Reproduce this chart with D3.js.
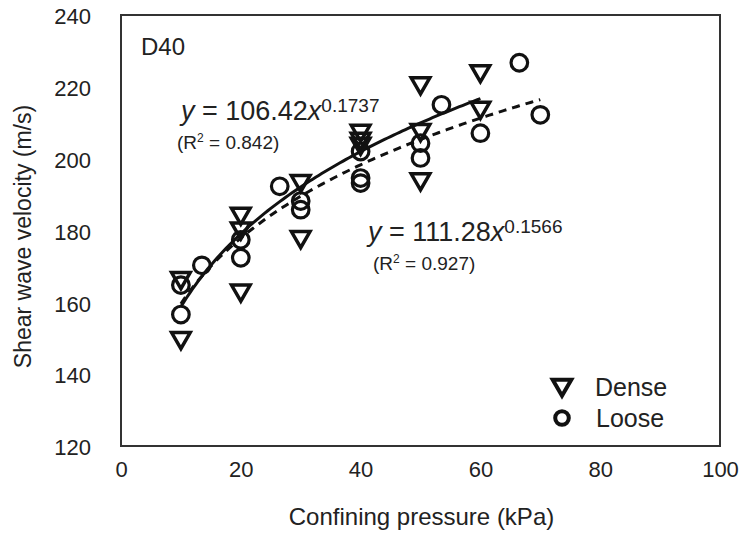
<!DOCTYPE html>
<html>
<head>
<meta charset="utf-8">
<script src="https://cdn.jsdelivr.net/npm/d3@7"></script>
<style>
  body { margin: 0; background: #fff; }
  text { font-family: "Liberation Sans", Arial, sans-serif; fill: #222; }
</style>
</head>
<body>
<svg id="chart" width="745" height="534"></svg>
<script>
// data
const denseX = [10, 10, 20, 20, 20, 30, 30, 40, 40, 40, 50, 50, 50, 60, 60];
const denseY = [166.8, 150.1, 184.7, 180.6, 163.3, 193.8, 178.2, 207.8, 205.6, 204.2, 221.0, 208.0, 194.3, 224.4, 214.2];

const looseX = [10, 10, 13.5, 20, 20, 26.5, 30, 30, 40, 40, 40, 50, 50, 53.5, 60, 66.5, 70];
const looseY = [164.8, 156.6, 170.3, 177.4, 172.4, 192.3, 188.2, 185.8, 202.0, 194.6, 193.2, 204.3, 200.2, 215.0, 207.1, 226.7, 212.2];

// power fits y = a * x^b shown on the chart
const denseFit = [106.42, 0.1737];   // a, b
const looseFit = [111.28, 0.1566];
const denseRange = [10, 60];
const looseRange = [10, 70];

const xTicks = [0, 20, 40, 60, 80, 100];
const yTicks = [120, 140, 160, 180, 200, 220, 240];

const svg = d3.select('#chart');
const margin = { left: 121, right: 25, top: 15, bottom: 88 };
const width = 745, height = 534;

const x = d3.scaleLinear().domain([0, 100]).range([margin.left, width - margin.right]);
const y = d3.scaleLinear().domain([120, 240]).range([height - margin.bottom, margin.top]);

// axes (no tick marks, just labels)
svg.append('g')
    .attr('transform', `translate(0,${y(120)})`)
    .call(d3.axisBottom(x).tickValues(xTicks).tickSize(0).tickPadding(15))
    .call(g => g.select('.domain').remove())
    .selectAll('text').attr('font-size', 22).attr('fill', '#222');

svg.append('g')
    .attr('transform', `translate(${x(0)},0)`)
    .call(d3.axisLeft(y).tickValues(yTicks).tickSize(0).tickPadding(30))
    .call(g => g.select('.domain').remove())
    .selectAll('text').attr('font-size', 22).attr('fill', '#222').attr('dy', '0.4em');

// frame
svg.append('rect')
    .attr('x', x(0)).attr('y', y(240))
    .attr('width', x(100) - x(0)).attr('height', y(120) - y(240))
    .attr('fill', 'none').attr('stroke', '#333').attr('stroke-width', 2);

// axis titles
svg.append('text')
    .attr('x', (x(0) + x(100)) / 2 + 1).attr('y', 525)
    .attr('text-anchor', 'middle').attr('font-size', 24)
    .text('Confining pressure (kPa)');

svg.append('text')
    .attr('transform', `translate(31,${(y(120) + y(240)) / 2 + 6}) rotate(-90)`)
    .attr('text-anchor', 'middle').attr('font-size', 23)
    .text('Shear wave velocity (m/s)');

svg.append('text')
    .attr('x', 141).attr('y', 55).attr('font-size', 24)
    .text('D40');

// fit curves
function fitLine(fit, range) {
    return d3.range(range[0], range[1] + 0.01, 0.5).map(v => [v, fit[0] * Math.pow(v, fit[1])]);
}
const line = d3.line().x(d => x(d[0])).y(d => y(d[1]));

svg.append('path')
    .attr('d', line(fitLine(looseFit, looseRange)))
    .attr('fill', 'none').attr('stroke', '#111').attr('stroke-width', 3)
    .attr('stroke-dasharray', '8,6');

svg.append('path')
    .attr('d', line(fitLine(denseFit, denseRange)))
    .attr('fill', 'none').attr('stroke', '#111').attr('stroke-width', 3);

// markers
const tri = d3.symbol().type(d3.symbolTriangle).size(150);

svg.append('g').selectAll('circle')
    .data(looseX.map((v, i) => [v, looseY[i]]))
    .join('circle')
    .attr('cx', d => x(d[0])).attr('cy', d => y(d[1]))
    .attr('r', 8.3)
    .attr('fill', 'none').attr('stroke', '#111').attr('stroke-width', 3.2);

svg.append('g').selectAll('path')
    .data(denseX.map((v, i) => [v, denseY[i]]))
    .join('path')
    .attr('d', tri)
    .attr('transform', d => `translate(${x(d[0])},${y(d[1])}) rotate(180)`)
    .attr('fill', 'none').attr('stroke', '#111').attr('stroke-width', 3.5)
    .attr('stroke-linejoin', 'miter');

// equations
function equation(px, py, a, b, r2, rx) {
    const t = svg.append('text').attr('x', px).attr('y', py).attr('font-size', 27);
    t.append('tspan').attr('font-style', 'italic').text('y');
    t.append('tspan').text(' = ' + a.toFixed(2));
    t.append('tspan').attr('font-style', 'italic').text('x');
    t.append('tspan').attr('font-size', 19).attr('dy', -8).text(b.toFixed(4));

    const r = svg.append('text').attr('x', rx).attr('y', py + 29).attr('font-size', 19);
    r.append('tspan').text('(R');
    r.append('tspan').attr('font-size', 12).attr('dy', -7).text('2');
    r.append('tspan').attr('dy', 7).text(' = ' + r2 + ')');
}
equation(181, 120, denseFit[0], denseFit[1], '0.842', 177);
equation(368, 241, looseFit[0], looseFit[1], '0.927', 373);

// legend
const lg = svg.append('g');
lg.append('path')
    .attr('d', tri)
    .attr('transform', 'translate(562,385) rotate(180)')
    .attr('fill', 'none').attr('stroke', '#111').attr('stroke-width', 4);
lg.append('text').attr('x', 595).attr('y', 396).attr('font-size', 25).text('Dense');
lg.append('circle')
    .attr('cx', 562).attr('cy', 418).attr('r', 6.8)
    .attr('fill', 'none').attr('stroke', '#111').attr('stroke-width', 4);
lg.append('text').attr('x', 596).attr('y', 427).attr('font-size', 25).text('Loose');
</script>
</body>
</html>
